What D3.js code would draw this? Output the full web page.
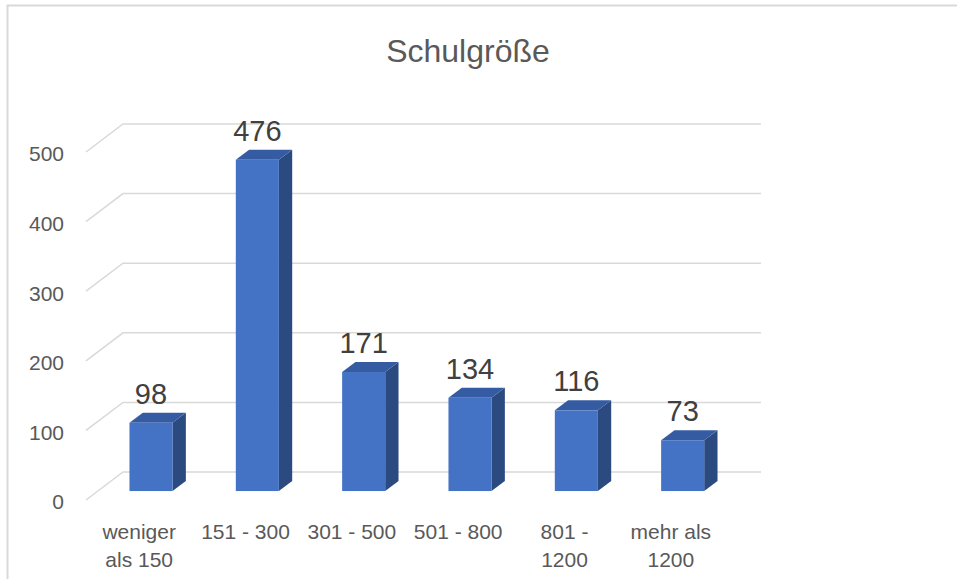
<!DOCTYPE html>
<html>
<head>
<meta charset="utf-8">
<script src="https://cdn.jsdelivr.net/npm/d3@7"></script>
<style>
  body { margin: 0; background: #fff; }
  svg { display: block; font-family: "Liberation Sans", Arial, sans-serif; }
</style>
</head>
<body>
<div id="chart"></div>
<script>
"use strict"

// data
let categories = ["weniger als 150", "151 - 300", "301 - 500", "501 - 800", "801 - 1200", "mehr als 1200"];
let values = [98, 476, 171, 134, 116, 73];
let yTicks = [0, 100, 200, 300, 400, 500];
let title = "Schulgröße";

let drawing = d3.select("#chart")
    .append("svg")
    .attr("width", 957)
    .attr("height", 579);

// chart frame (only left + top edges show)
drawing.append("path")
    .attr("d", "M7.5,579 L7.5,5.5 L957,5.5")
    .attr("fill", "none")
    .attr("stroke", "#d9d9d9")
    .attr("stroke-width", 2);

// 3d box: front plane + depth vector
let depthX = 37, depthY = -28;
let barD0 = 0.32, barD1 = 0.68; // bar sits in the middle of the floor depth

let x = d3.scaleBand()
    .domain(categories)
    .range([86, 724])
    .paddingInner(0.595)
    .paddingOuter(0.2975);

let xCat = d3.scaleBand()
    .domain(categories)
    .range([86, 724]);

let y = d3.scaleLinear()
    .domain([0, 500])
    .range([500, 152]);

// gridlines: side wall diagonal + back wall line
drawing.append("g")
    .selectAll("path")
    .data(yTicks)
    .join("path")
    .attr("d", d => {
        let fy = y(d);
        return "M86," + fy + " L" + (86 + depthX) + "," + (fy + depthY) +
            " L" + (724 + depthX) + "," + (fy + depthY);
    })
    .attr("fill", "none")
    .attr("stroke", "#d9d9d9")
    .attr("stroke-width", 1.5);

// y tick labels
drawing.append("g")
    .selectAll("text")
    .data(yTicks)
    .join("text")
    .attr("x", 64)
    .attr("y", d => y(d) + 2)
    .attr("dy", "0.35em")
    .attr("text-anchor", "end")
    .attr("font-size", 21)
    .attr("fill", "#595959")
    .text(d => d);

// bars
let bw = x.bandwidth();
let offX = barD0 * depthX, offY = barD0 * depthY;
let ddx = (barD1 - barD0) * depthX, ddy = (barD1 - barD0) * depthY;

let bars = drawing.append("g")
    .selectAll("g")
    .data(categories.map((c, i) => ({ cat: c, val: values[i] })))
    .join("g");

// right side
bars.append("path")
    .attr("d", d => {
        let x1 = x(d.cat) + offX + bw, yt = y(d.val) + offY, yb = y(0) + offY;
        return "M" + x1 + "," + yt + " L" + (x1 + ddx) + "," + (yt + ddy) +
            " L" + (x1 + ddx) + "," + (yb + ddy) + " L" + x1 + "," + yb + "Z";
    })
    .attr("fill", "#2b4a80");

// top
bars.append("path")
    .attr("d", d => {
        let x0 = x(d.cat) + offX, yt = y(d.val) + offY;
        return "M" + x0 + "," + yt + " L" + (x0 + bw) + "," + yt +
            " L" + (x0 + bw + ddx) + "," + (yt + ddy) + " L" + (x0 + ddx) + "," + (yt + ddy) + "Z";
    })
    .attr("fill", "#355ca3");

// front
bars.append("rect")
    .attr("x", d => x(d.cat) + offX)
    .attr("y", d => y(d.val) + offY)
    .attr("width", bw)
    .attr("height", d => y(0) - y(d.val))
    .attr("fill", "#4472c4");

// value labels
bars.append("text")
    .attr("x", d => x(d.cat) + offX + bw / 2)
    .attr("y", d => y(d.val) + offY - 19)
    .attr("text-anchor", "middle")
    .attr("font-size", 29)
    .attr("fill", "#404040")
    .text(d => d.val);

// category labels, wrapped like excel does
let catLabels = drawing.append("g")
    .selectAll("text")
    .data(categories)
    .join("text")
    .attr("x", d => xCat(d) + xCat.bandwidth() / 2)
    .attr("y", 539)
    .attr("text-anchor", "middle")
    .attr("font-size", 21)
    .attr("fill", "#595959");

catLabels.each(function (d) {
    let el = d3.select(this);
    let words = d.split(" ");
    let lines = [];
    let line = "";
    let probe = el.append("tspan");
    words.forEach(w => {
        let test = line ? line + " " + w : w;
        probe.text(test);
        if (probe.node().getComputedTextLength() > 94 && line) {
            lines.push(line);
            line = w;
        } else {
            line = test;
        }
    });
    lines.push(line);
    probe.remove();
    lines.forEach((l, i) => {
        el.append("tspan")
            .attr("x", el.attr("x"))
            .attr("dy", i == 0 ? 0 : 28)
            .text(l);
    });
});

// title
drawing.append("text")
    .attr("x", 468)
    .attr("y", 62)
    .attr("text-anchor", "middle")
    .attr("font-size", 32)
    .attr("fill", "#595959")
    .text(title);
</script>
</body>
</html>
